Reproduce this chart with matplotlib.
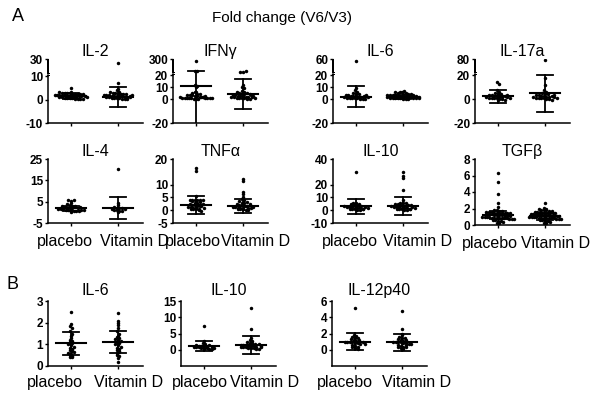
import numpy as np
import matplotlib
matplotlib.use('Agg')
import matplotlib.pyplot as plt
from matplotlib.patches import Rectangle

plt.rcParams['font.family'] = ['Liberation Sans', 'DejaVu Sans']
plt.rcParams['axes.unicode_minus'] = False

groups = ['placebo', 'Vitamin D']

# ---- panel A, top row (fold change V6/V3) ----
il2_pla = [5.2, 3.4, 3.2, 3.0, 3.1, 2.8, 2.9, 2.6, 2.5, 2.4, 2.2, 2.3, 2.0, 1.9, 1.8, 2.1,
           1.7, 1.6, 1.5, 1.4, 1.3, 1.2, 1.1, 1.0, 0.9, 0.8, 0.7, 0.6, 0.5, 0.4, 0.3, 0.2,
           1.5, 1.6, 2.0, 1.8, 2.5, 1.2]
il2_vit = [27, 7.0, 4.5, 4.0, 3.5, 3.2, 3.0, 2.8, 2.6, 2.5, 2.4, 2.2, 2.0, 1.9, 1.8, 1.7,
           1.6, 1.5, 1.4, 1.3, 1.2, 1.1, 1.0, 0.9, 0.8, 0.7, 0.6, 0.5, 0.4, 0.3, 2.3, 1.5,
           2.1, 1.0]
ifng_pla = [250, 50, 48, 12, 11, 10, 6, 5, 5.5, 4.5, 4, 3.5, 3, 3.2, 2.5, 2.2, 2, 1.8,
            1.5, 1.2, 1, 0.8, 0.6, 0.5, 0.4, 0.3, 0.2, 1.4, 1.6, 2.4, 0.9, 0.7, 1.1, 1.3]
ifng_vit = [40, 35, 45, 12, 10, 9, 7, 6, 5.5, 5, 4.5, 4, 3.5, 3, 2.8, 2.5, 2.2, 2, 1.8,
            1.6, 1.4, 1.2, 1, 0.8, 0.6, 0.4, 0.3, 5.2, 4.2, 3.2, 2.6, 1.5, 0.9]
il6a_pla = [55, 9, 8, 6, 5, 4.5, 4, 3.5, 3, 2.8, 2.5, 2.2, 2, 1.8, 1.5, 1.2, 1, 0.8,
            0.6, 0.5, 0.4, 0.3, 0.2, 1.4, 2.6, 3.2]
il6a_vit = [6, 6.5, 5.8, 5, 5.5, 4.5, 4.8, 4, 4.2, 3.5, 3.8, 3, 3.2, 2.5, 2.8, 2, 2.2,
            1.5, 1.8, 1.2, 1, 0.8, 0.6, 0.5, 0.4, 0.3, 0.2, 1.6, 2.4, 1.3, 0.9, 0.7, 3.4,
            2.6, 1.9]
il17_pla = [14, 13, 8, 6, 5, 4.5, 4, 3.5, 3, 2.6, 2.2, 2, 1.8, 1.5, 1.2, 1, 0.8, 0.5,
            0.3, 0.1, -0.5, -1, 2.4, 1.4, 0.6, 3.2]
il17_vit = [75, 18, 12, 8, 6, 5, 4.5, 4, 3.5, 3, 2.5, 2.2, 2, 1.8, 1.5, 1.2, 1, 0.8,
            0.5, 0.3, 0.1, -0.5, 2.8, 1.4, 0.6, 3.8]

# ---- panel A, second row ----
il4_pla = [6, 5.5, 5.6, 4.5, 4, 3.5, 3, 3.2, 2.8, 2.5, 2.2, 2, 1.8, 1.6, 1.5, 1.4, 1.2,
           1, 0.8, 0.6, 0.5, 0.4, 0.3, 2.4, 1.9, 1.1, 0.9, 2.6]
il4_vit = [20.5, 4.5, 3.5, 2.5, 2, 1.8, 1.5, 1.2, 1, 0.8, 0.5, 0.3, 2.2, 1.4]
tnfa_pla = [16.5, 15.5, 5.5, 4, 4, 4, 4, 4, 3.8, 3.5, 3, 2.8, 2.5, 2.2, 2, 1.8, 1.6,
            1.4, 1.2, 1, 0.8, 0.6, 0.5, 0.4, 0.3, 0.2, -0.5, 2.4, 1.5, 0.9, 3.2]
tnfa_vit = [12, 11.5, 7, 6.5, 5, 4.5, 4, 3.5, 3, 2.8, 2.5, 2.2, 2, 1.8, 1.6, 1.4, 1.2,
            1, 0.8, 0.6, 0.5, 0.4, 0.3, 0.2, 0.1, 2.4, 1.5, 0.9, 3.2, 0.7, 1.1]
il10a_pla = [30, 6, 5.5, 5, 4.5, 4, 3.5, 3, 2.8, 2.5, 2.2, 2, 1.8, 1.5, 1.2, 1, 0.8,
             0.6, 0.5, 0.3, 2.4, 1.4, 0.9, 3.2, 5.2]
il10a_vit = [30, 27, 25, 16, 8, 6, 5.5, 5, 4.5, 4, 3.5, 3, 2.8, 2.5, 2.2, 2, 1.8, 1.5,
             1.2, 1, 0.8, 0.6, 0.5, 0.3, 2.4, 1.4, 0.9, 3.2, 4.2, 5.4, 3.8]
tgfb_pla = [6.3, 5.2, 3.8, 2.7, 2.2, 1.8, 1.8, 1.7, 1.7, 1.6, 1.6, 1.6, 1.5, 1.5, 1.5,
            1.4, 1.4, 1.4, 1.4, 1.3, 1.3, 1.3, 1.2, 1.2, 1.2, 1.2, 1.1, 1.1, 1.1, 1.0,
            1.0, 1.0, 1.0, 0.9, 0.9, 0.9, 0.8, 0.8, 0.8, 0.8, 0.7, 0.7, 0.7, 0.6, 0.6,
            0.5, 0.5, 0.4, 0.3, 0.2]
tgfb_vit = [2.7, 2.1, 2.0, 1.9, 1.8, 1.8, 1.8, 1.7, 1.7, 1.6, 1.6, 1.6, 1.5, 1.5, 1.5,
            1.4, 1.4, 1.4, 1.3, 1.3, 1.3, 1.3, 1.2, 1.2, 1.2, 1.2, 1.1, 1.1, 1.1, 1.1,
            1.0, 1.0, 1.0, 1.0, 0.9, 0.9, 0.9, 0.9, 0.8, 0.8, 0.8, 0.7, 0.7, 0.7, 0.6,
            0.6, 0.5, 0.5, 0.4, 0.3, 0.2]

# ---- panel B ----
il6b_pla = [2.5, 1.95, 1.85, 1.75, 1.6, 1.5, 1.4, 1.3, 1.2, 1.1, 1.05, 1.0, 0.95, 0.9,
            0.85, 0.8, 0.75, 0.7, 0.6, 0.55, 0.5, 0.45, 0.4, 0.4, 1.15, 0.65]
il6b_vit = [2.45, 2.1, 2.0, 1.9, 1.75, 1.6, 1.5, 1.4, 1.35, 1.25, 1.2, 1.15, 1.1, 1.05,
            1.0, 0.95, 0.9, 0.85, 0.8, 0.75, 0.7, 0.6, 0.5, 0.45, 0.35, 0.2, 1.3, 0.65]
il10b_pla = [7.3, 2.8, 2.2, 1.8, 1.5, 1.3, 1.2, 1.1, 1.0, 0.9, 0.8, 0.7, 0.6, 0.5, 0.4,
             0.3, 0.2, 0.1, 1.4, 0.95, 0.65]
il10b_vit = [13, 6.5, 3.5, 3, 2.5, 2.2, 2, 1.8, 1.6, 1.5, 1.4, 1.3, 1.2, 1.1, 1, 0.9,
             0.8, 0.7, 0.6, 0.5, 0.4, 0.3, 0.2, 1.7, 1.25, 0.85, 2.6]
il12_pla = [5.2, 1.8, 1.7, 1.6, 1.5, 1.4, 1.3, 1.2, 1.1, 1.0, 1.0, 0.9, 0.9, 0.8, 0.8,
            0.7, 0.6, 0.5, 0.4, 0.3, 0.2, 0.1, 1.2, 0.9, 0.7]
il12_vit = [4.8, 2.6, 2.0, 1.8, 1.6, 1.5, 1.4, 1.3, 1.2, 1.1, 1.0, 1.0, 0.9, 0.9, 0.8,
            0.8, 0.7, 0.7, 0.6, 0.5, 0.4, 0.3, 0.2, 0.1, 0.05, 1.2, 0.6, 0.3]

# mean and SD (placebo, vitamin D)
means = {'IL-2': (1.8, 1.3), 'IFNγ': (11, 4), 'IL-6a': (2, 1.8), 'IL-17a': (2.5, 5),
         'IL-4': (1.8, 2), 'TNFα': (2, 1.6), 'IL-10a': (3, 3.5), 'TGFβ': (1.2, 1.05),
         'IL-6b': (1.05, 1.1), 'IL-10b': (1.1, 1.5), 'IL-12p40': (1.0, 0.9)}
sds = {'IL-2': (1.3, 4.3), 'IFNγ': (40, 12.5), 'IL-6a': (9, 1.6), 'IL-17a': (5.5, 15.5),
       'IL-4': (1.3, 5), 'TNFα': (3.6, 2.8), 'IL-10a': (6, 7), 'TGFβ': (0.5, 0.4),
       'IL-6b': (0.53, 0.5), 'IL-10b': (1.6, 2.7), 'IL-12p40': (1.05, 1.0)}

W, H = 601, 400
fig = plt.figure(figsize=(W / 100, H / 100), dpi=100)

# key, title, placebo, vitD, ylim, yticks, break (b1, b2, gap, span),
# axes box px (left, top, bottom), row, x-label shifts px
panels = [
    ('IL-2', 'IL-2', il2_pla, il2_vit, (-10, 30), [-10, 0, 10, 30], (10, 20, 1.5, 6), (48, 59, 123), 0, None),
    ('IFNγ', 'IFNγ', ifng_pla, ifng_vit, (-20, 300), [-20, 0, 10, 20, 300], (20, 30, 2.5, 11), (173, 59, 123), 0, None),
    ('IL-6a', 'IL-6', il6a_pla, il6a_vit, (-20, 60), [-20, 0, 10, 20, 60], (20, 30, 2.5, 11), (333, 59, 123), 0, None),
    ('IL-17a', 'IL-17a', il17_pla, il17_vit, (-20, 80), [-20, 0, 20, 80], (20, 30, 2.5, 11), (475, 59, 123), 0, None),
    ('IL-4', 'IL-4', il4_pla, il4_vit, (-5, 25), [-5, 5, 15, 25], None, (48, 159, 223), 1, (-6, 16)),
    ('TNFα', 'TNFα', tnfa_pla, tnfa_vit, (-5, 20), [-5, 0, 5, 10, 20], None, (173, 159, 223), 1, (-3, 12)),
    ('IL-10a', 'IL-10', il10a_pla, il10a_vit, (-10, 40), [-10, 0, 10, 20, 40], None, (333, 159, 223), 1, (-6, 14)),
    ('TGFβ', 'TGFβ', tgfb_pla, tgfb_vit, (0, 8), [0, 2, 4, 6, 8], None, (475, 159, 225), 1, (-8, 10)),
    ('IL-6b', 'IL-6', il6b_pla, il6b_vit, (0, 3), [0, 1, 2, 3], None, (48, 301, 366), 2, (-16, 10)),
    ('IL-10b', 'IL-10', il10b_pla, il10b_vit, (-5, 15), [0, 5, 10, 15], None, (181, 301, 366), 2, (-4, 13)),
    ('IL-12p40', 'IL-12p40', il12_pla, il12_vit, (-2, 6), [0, 2, 4, 6], None, (332, 301, 366), 2, (-10, 14)),
]
title_pad = [2, -3.6, 4.3]
label_drop = [0, 23, 21]
ax_w = 95


def broken(lo, hi, b1, b2, gap, span):
    top = b1 + gap + span
    xs = [lo - 1e4, lo, b1, b2, hi, hi + 1e4]
    ds = [lo - 1e4, lo, b1, b1 + gap, top, top + 1e4 * span / (hi - b2)]
    return (lambda v: np.interp(v, xs, ds)), (lambda v: np.interp(v, ds, xs))


def swarm_x(ax, center, values, step_px=2.6, row_px=2.6, max_half=16):
    vals = np.asarray(values, float)
    pts = ax.transData.transform(np.column_stack([np.full(len(vals), center), vals]))
    xunit = ax.transData.transform([[center + 1, vals[0]]])[0, 0] - pts[0, 0]
    rows = np.round(pts[:, 1] / row_px)
    xs = np.full(len(vals), float(center))
    for r in np.unique(rows):
        idx = np.where(rows == r)[0]
        n = len(idx)
        step = step_px if n < 2 else min(step_px, 2 * max_half / (n - 1))
        xs[idx] = center + (np.arange(n) - (n - 1) / 2) * step / xunit
    return xs


for key, title, pla, vit, ylim, yticks, brk, box, row, shifts in panels:
    left, top, bottom = box
    ax = fig.add_axes([left / W, 1 - bottom / H, ax_w / W, (bottom - top) / H])
    if brk is not None:
        f, finv = broken(ylim[0], ylim[1], *brk)
        ax.set_yscale('function', functions=(f, finv))
    ax.set_xlim(-0.49, 1.53)
    ax.set_ylim(*ylim)
    ax.set_yticks(yticks)
    ax.set_yticklabels([str(t) for t in yticks], fontweight='bold', fontsize=8.5)
    ax.set_xticks([0, 1])
    ax.set_xticklabels([])
    ax.tick_params(axis='both', length=2.5, width=1, pad=1)
    ax.minorticks_off()
    for s in ['top', 'right']:
        ax.spines[s].set_visible(False)
    ax.spines['bottom'].set_linewidth(1.1)
    ax.spines['left'].set_linewidth(1.1)
    if brk is not None:
        # broken y axis: native spine for the lower piece, a thin bar for the upper piece
        b1, b2 = brk[0], brk[1]
        ax.spines['left'].set_bounds(ylim[0], b1 + 0.3 * (b2 - b1))
        d0, d1 = f(ylim[0]), f(ylim[1])
        g_lo = float((f(b1 + 0.3 * (b2 - b1)) - d0) / (d1 - d0))
        g_hi = float((f(b1 + 0.85 * (b2 - b1)) - d0) / (d1 - d0))
        px_top = bottom - g_hi * (bottom - top)
        px_lo = bottom - g_lo * (bottom - top)
        bars = [(left - 0.75, top, 1.5, px_top - top),
                (left - 0.75, px_top - 0.75, 3.0, 1.5),
                (left - 0.75, px_lo - 0.75, 3.0, 1.5)]
        for bx, by, bw, bh in bars:
            fig.add_artist(Rectangle((bx / W, 1 - (by + bh) / H), bw / W, bh / H,
                                     transform=fig.transFigure, facecolor='k',
                                     edgecolor='none', zorder=10))

    for i, vals in enumerate([pla, vit]):
        xs = swarm_x(ax, i, vals)
        ax.plot(xs, vals, 'o', color='k', ms=2.5, mew=0, zorder=3)
        m, s = means[key][i], sds[key][i]
        ax.plot([i, i], [max(m - s, ylim[0]), m + s], color='k', lw=1.3, zorder=4)
        ax.plot([i - 0.17, i + 0.17], [m + s] * 2, color='k', lw=1.3, zorder=4)
        if m - s > ylim[0]:
            ax.plot([i - 0.17, i + 0.17], [m - s] * 2, color='k', lw=1.3, zorder=4)
        ax.plot([i - 0.32, i + 0.32], [m, m], color='k', lw=1.5, zorder=4)

    ax.set_title(title, fontsize=11.5, pad=title_pad[row])
    if shifts is not None:
        for i, (g, dx) in enumerate(zip(groups, shifts)):
            ax.annotate(g, xy=(i, 0), xycoords=('data', 'axes fraction'),
                        xytext=(dx * 0.72, -label_drop[row] * 0.72),
                        textcoords='offset points', ha='center', va='baseline', fontsize=11.5)

fig.text(282 / W, 1 - 22 / H, 'Fold change (V6/V3)', ha='center', va='baseline', fontsize=11)
fig.text(12 / W, 1 - 21 / H, 'A', ha='left', va='baseline', fontsize=13)
fig.text(6 / W, 1 - 289 / H, 'B', ha='left', va='baseline', fontsize=13)

fig.savefig('out.png', dpi=100)
